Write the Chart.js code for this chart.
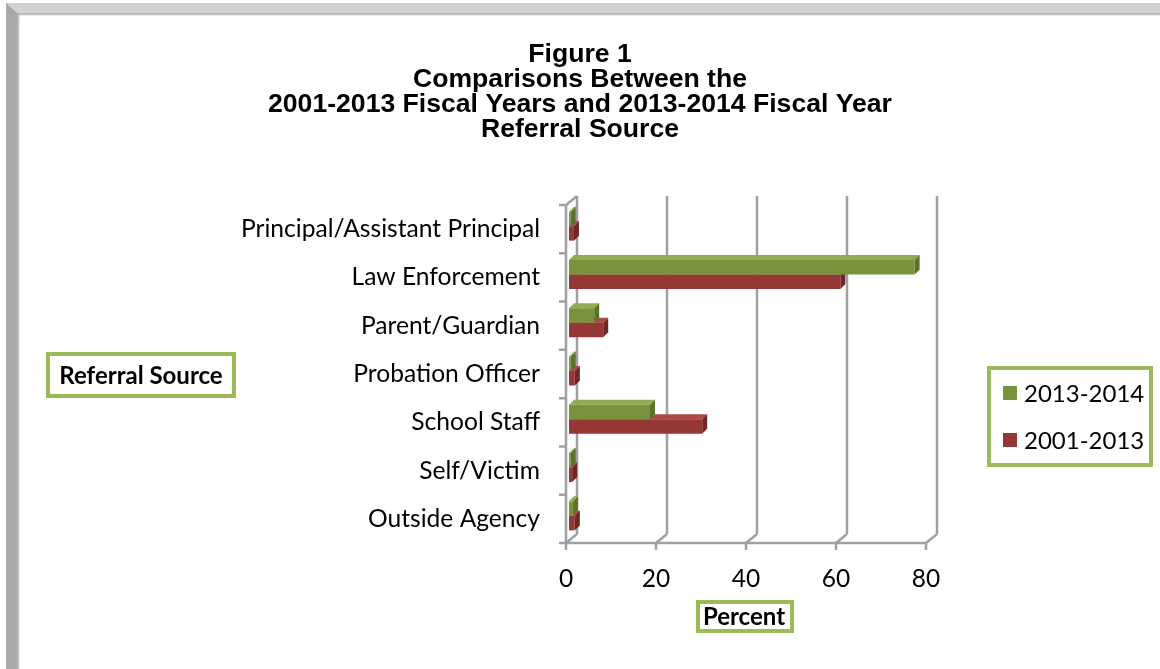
<!DOCTYPE html>
<html>
<head>
<meta charset="utf-8">
<script src="https://cdn.jsdelivr.net/npm/chart.js@4.4.1/dist/chart.umd.min.js"></script>
<style>
  html, body { margin: 0; padding: 0; background: #fff; }
  body { width: 1160px; height: 669px; position: relative; overflow: hidden; }
  .frame {
    position: absolute; left: 6px; top: 3px; width: 1200px; height: 720px;
    border-left: 11px solid #a9a9a9; border-top: 10px solid #d2d2d2;
    box-sizing: border-box; box-shadow: inset 2px 2px 2px rgba(0, 0, 0, 0.3);
  }
  #wrap { position: absolute; left: 0; top: 0; width: 1160px; height: 669px; }
</style>
</head>
<body>
<div class="frame"></div>
<div id="wrap"><canvas id="chart"></canvas></div>
<script>
const TITLE_LINES = ['Figure 1', 'Comparisons Between the', '2001-2013 Fiscal Years and 2013-2014 Fiscal Year', 'Referral Source'];
const CATEGORIES = ['Principal/Assistant Principal', 'Law Enforcement', 'Parent/Guardian', 'Probation Officer', 'School Staff', 'Self/Victim', 'Outside Agency'];
const SERIES_LABELS = ['2013-2014', '2001-2013'];
const VALUES_2013_2014 = [0.4, 76.8, 5.6, 0.4, 18.0, 0.4, 0.9];
const VALUES_2001_2013 = [1.1, 60.3, 7.6, 1.3, 29.6, 0.7, 1.3];
const X_TICKS = [0, 20, 40, 60, 80];
const Y_TITLE = 'Referral Source';
const X_TITLE = 'Percent';

// colours: front, top face, end face
const GREEN = ['#77933c', '#8fac4f', '#5b7329'];
const RED = ['#953735', '#ad4946', '#702624'];
const GRID = '#a0a0a0';
const BOX = '#9bbb59';
const DEPTH = { x: 11, y: -9 };
const BAR_DEPTH = 5;
const BAR_SHIFT = { x: 3, y: -3 };
const LABEL_FONT = 'Lato, "Open Sans", sans-serif';

const threeD = {
  id: 'threeD',
  beforeDatasetsDraw(chart) {
    const { ctx, chartArea: a, scales: { x, y } } = chart;
    ctx.save();
    ctx.strokeStyle = GRID;
    ctx.lineWidth = 2.5;
    ctx.beginPath();
    X_TICKS.forEach(v => {
      const px = x.getPixelForValue(v);
      ctx.moveTo(px + DEPTH.x, a.top + DEPTH.y);
      ctx.lineTo(px + DEPTH.x, a.bottom + DEPTH.y);
      ctx.moveTo(px, a.bottom);
      ctx.lineTo(px + DEPTH.x, a.bottom + DEPTH.y);
      ctx.moveTo(px, a.bottom);
      ctx.lineTo(px, a.bottom + 7);
    });
    ctx.moveTo(a.left - 1, a.bottom);
    ctx.lineTo(a.right + 1, a.bottom);
    ctx.moveTo(a.left, a.top);
    ctx.lineTo(a.left, a.bottom);
    ctx.moveTo(a.left, a.top);
    ctx.lineTo(a.left + DEPTH.x, a.top + DEPTH.y);
    for (let i = 0; i <= CATEGORIES.length; i++) {
      const py = y.getPixelForValue(i - 0.5);
      ctx.moveTo(a.left - 7, py);
      ctx.lineTo(a.left, py);
    }
    ctx.stroke();
    ctx.restore();

    ctx.save();
    ctx.translate(BAR_SHIFT.x, BAR_SHIFT.y);
    const d = BAR_DEPTH;
    [1, 0].forEach(di => {
      const cols = di === 0 ? GREEN : RED;
      chart.getDatasetMeta(di).data.forEach(el => {
        const { x: ex, y: ey, base, height } = el.getProps(['x', 'y', 'base', 'height'], true);
        const top = ey - height / 2, bot = ey + height / 2;
        ctx.fillStyle = cols[1];
        ctx.beginPath();
        ctx.moveTo(base, top);
        ctx.lineTo(base + d, top - d);
        ctx.lineTo(ex + d, top - d);
        ctx.lineTo(ex, top);
        ctx.closePath();
        ctx.fill();
        ctx.fillStyle = cols[2];
        ctx.beginPath();
        ctx.moveTo(ex, top);
        ctx.lineTo(ex + d, top - d);
        ctx.lineTo(ex + d, bot - d);
        ctx.lineTo(ex, bot);
        ctx.closePath();
        ctx.fill();
      });
    });
  },
  afterDatasetsDraw(chart) {
    chart.ctx.restore();
  },
  afterDraw(chart) {
    const { ctx, chartArea: a } = chart;
    ctx.save();
    ctx.strokeStyle = BOX;
    ctx.lineWidth = 4;
    ctx.fillStyle = '#000';
    ctx.textBaseline = 'middle';
    ctx.textAlign = 'center';
    ctx.font = 'bold 24px ' + LABEL_FONT;

    // y axis title box
    ctx.strokeRect(48, 354, 186, 42);
    ctx.fillText(Y_TITLE, 141, 376);

    // x axis title box
    const cx = (a.left + a.right) / 2;
    ctx.strokeRect(cx - 48, 602, 94, 29);
    ctx.fillText(X_TITLE, cx - 2, 617);

    // legend
    ctx.strokeRect(989, 368, 162, 97);
    ctx.textAlign = 'left';
    ctx.font = '24px ' + LABEL_FONT;
    chart.data.datasets.forEach((ds, i) => {
      const ly = 393 + i * 47;
      ctx.fillStyle = ds.backgroundColor;
      ctx.fillRect(1003, ly - 7, 14, 14);
      ctx.fillStyle = '#000';
      ctx.fillText(ds.label, 1024, ly + 1);
    });
    ctx.restore();
  }
};

new Chart(document.getElementById('chart'), {
  type: 'bar',
  data: {
    labels: CATEGORIES,
    datasets: [
      { label: SERIES_LABELS[0], data: VALUES_2013_2014, backgroundColor: GREEN[0], clip: false },
      { label: SERIES_LABELS[1], data: VALUES_2001_2013, backgroundColor: RED[0], clip: false },
    ],
  },
  options: {
    indexAxis: 'y',
    responsive: true,
    maintainAspectRatio: false,
    animation: false,
    categoryPercentage: 0.6,
    barPercentage: 1.0,
    layout: { padding: 0 },
    plugins: {
      legend: { display: false },
      tooltip: { enabled: false },
      title: {
        display: true,
        text: TITLE_LINES,
        color: '#000',
        font: { family: '"Liberation Sans", Arial, sans-serif', size: 26.6, weight: 'bold', lineHeight: 25 / 26.6 },
        padding: { top: 42, bottom: 63 },
      },
    },
    scales: {
      x: {
        min: 0, max: 80,
        afterBuildTicks(s) { s.ticks = X_TICKS.map(v => ({ value: v })); },
        afterFit(s) { s.height = 126; },
        grid: { display: false, drawTicks: false },
        border: { display: false },
        ticks: { color: '#000', padding: 21, font: { family: LABEL_FONT, size: 24.5 } },
      },
      y: {
        afterFit(s) { s.width = 566; },
        grid: { display: false, drawTicks: false },
        border: { display: false },
        ticks: { color: '#000', padding: 26, font: { family: LABEL_FONT, size: 24.6 } },
      },
      y2: {
        type: 'linear',
        position: 'right',
        afterFit(s) { s.width = 234; },
        grid: { display: false, drawTicks: false },
        border: { display: false },
        ticks: { display: false },
      },
    },
  },
  plugins: [threeD],
});
</script>
</body>
</html>
